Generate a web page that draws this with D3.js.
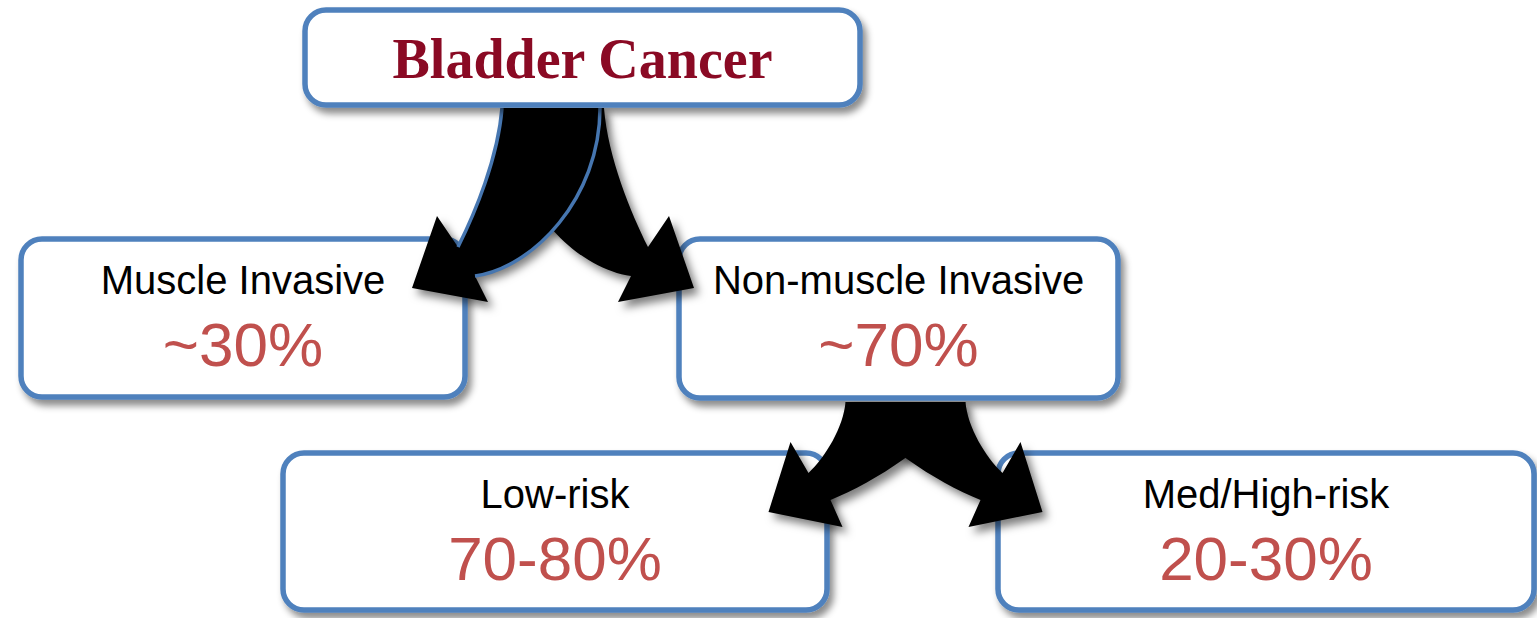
<!DOCTYPE html>
<html>
<head>
<meta charset="utf-8">
<script src="https://cdn.jsdelivr.net/npm/d3@7"></script>
<style>
  html, body { margin: 0; padding: 0; background: #ffffff; }
  svg { display: block; }
</style>
</head>
<body>
<div id="chart"></div>
<script>
// ---- data ----
const nodeNames   = ["Bladder Cancer", "Muscle Invasive", "Non-muscle Invasive", "Low-risk", "Med/High-risk"];
const nodeShares  = ["", "~30%", "~70%", "70-80%", "20-30%"];
const nodeParents = [null, 0, 0, 2, 2];

// ---- layout (box frames, stroke centre-lines) ----
const W = 1537, H = 618;
const boxFrames = [
  { x: 305, y: 10,  w: 555, h: 95 },
  { x: 21,  y: 239, w: 444, h: 158 },
  { x: 679, y: 239, w: 439, h: 159 },
  { x: 283, y: 453, w: 544, h: 157 },
  { x: 998, y: 453, w: 536, h: 157 }
];

// Curved arrow outlines, expressed as offsets from the parent's bottom centre.
// u = outward horizontal offset (mirrored for the left/right branch), v = downward offset.
const arrowShapes = {
  top: {
    cx: 553, top: 108,
    sOut: [51, 0], c1o: [55, 50], c2o: [78, 105], hOut: [95, 139],
    barb1: [116, 108], tip: [141, 180], barb2: [65, 194],
    hIn: [78, 168], c1i: [20, 160], c2i: [-47, 90], sIn: [-47, 0]
  },
  bottom: {
    cx: 905.5, top: 402,
    sOut: [60, 0], c1o: [62, 25], c2o: [80, 55], hOut: [97, 71],
    barb1: [115, 40], tip: [137, 110], barb2: [63, 125],
    hIn: [75, 98], c1i: [30, 80], c2i: [-30, 40], sIn: [-60, 0]
  }
};

const BLUE = "#4f81bd";
const RED = "#c0504d";
const TITLE_RED = "#8a0a24";

const svg = d3.select("#chart").append("svg")
  .attr("width", W).attr("height", H)
  .attr("viewBox", `0 0 ${W} ${H}`);

svg.append("rect").attr("width", W).attr("height", H).attr("fill", "#fff");

const defs = svg.append("defs");
defs.append("filter").attr("id", "boxShadow")
  .attr("x", "-10%").attr("y", "-20%").attr("width", "130%").attr("height", "160%")
  .append("feDropShadow")
  .attr("dx", 4).attr("dy", 6).attr("stdDeviation", 3.5)
  .attr("flood-color", "#000").attr("flood-opacity", 0.45);
defs.append("filter").attr("id", "arrowShadow")
  .attr("x", "-30%").attr("y", "-30%").attr("width", "170%").attr("height", "170%")
  .append("feDropShadow")
  .attr("dx", 5).attr("dy", 6).attr("stdDeviation", 4)
  .attr("flood-color", "#000").attr("flood-opacity", 0.5);

function pt(shape, key, dir) {
  const [u, v] = shape[key];
  return [shape.cx + dir * u, shape.top + v];
}

function arrowOutline(shape, dir) {
  const p = d3.path();
  const P = k => pt(shape, k, dir);
  p.moveTo(...P("sOut"));
  p.bezierCurveTo(...P("c1o"), ...P("c2o"), ...P("hOut"));
  p.lineTo(...P("barb1"));
  p.lineTo(...P("tip"));
  p.lineTo(...P("barb2"));
  p.lineTo(...P("hIn"));
  p.bezierCurveTo(...P("c1i"), ...P("c2i"), ...P("sIn"));
  p.closePath();
  return p.toString();
}

function arrowEdges(shape, dir) {
  const p = d3.path();
  const P = k => pt(shape, k, dir);
  p.moveTo(...P("sOut"));
  p.bezierCurveTo(...P("c1o"), ...P("c2o"), ...P("hOut"));
  p.moveTo(...P("hIn"));
  p.bezierCurveTo(...P("c1i"), ...P("c2i"), ...P("sIn"));
  return p.toString();
}

function drawBox(i) {
  const f = boxFrames[i];
  const g = svg.append("g").attr("class", "node");
  g.append("rect")
    .attr("x", f.x).attr("y", f.y).attr("width", f.w).attr("height", f.h)
    .attr("rx", 21).attr("ry", 21)
    .attr("fill", "#fff").attr("stroke", BLUE).attr("stroke-width", 5.5)
    .attr("filter", "url(#boxShadow)");
  const cx = f.x + f.w / 2;
  if (nodeParents[i] === null) {
    g.append("text")
      .attr("x", cx).attr("y", f.y + 68)
      .attr("text-anchor", "middle")
      .attr("font-family", "'Liberation Serif', 'Times New Roman', serif")
      .attr("font-weight", "bold").attr("font-size", 56)
      .attr("fill", TITLE_RED)
      .text(nodeNames[i]);
  } else {
    g.append("text")
      .attr("x", cx).attr("y", f.y + 55)
      .attr("text-anchor", "middle")
      .attr("font-family", "'Liberation Sans', Arial, sans-serif")
      .attr("font-size", 40).attr("fill", "#000")
      .text(nodeNames[i]);
    g.append("text")
      .attr("x", cx).attr("y", f.y + 127)
      .attr("text-anchor", "middle")
      .attr("font-family", "'Liberation Sans', Arial, sans-serif")
      .attr("font-size", 62).attr("fill", RED)
      .text(nodeShares[i]);
  }
}

function drawArrowPair(shape, outlined) {
  const g = svg.append("g").attr("class", "arrows");
  // right branch underneath, left branch on top
  [1, -1].forEach(dir => {
    g.append("path")
      .attr("d", arrowOutline(shape, dir))
      .attr("fill", "#000")
      .attr("filter", "url(#arrowShadow)");
    if (outlined && dir === -1) {
      g.append("path")
        .attr("d", arrowEdges(shape, dir))
        .attr("fill", "none")
        .attr("stroke", "#4676b0").attr("stroke-width", 3.5);
    }
  });
}

// Draw from the bottom level upwards so each arrow sits over its targets
// and under its source box.
drawBox(3);
drawBox(4);
drawArrowPair(arrowShapes.bottom, false);
drawBox(1);
drawBox(2);
drawArrowPair(arrowShapes.top, true);
drawBox(0);
</script>
</body>
</html>
